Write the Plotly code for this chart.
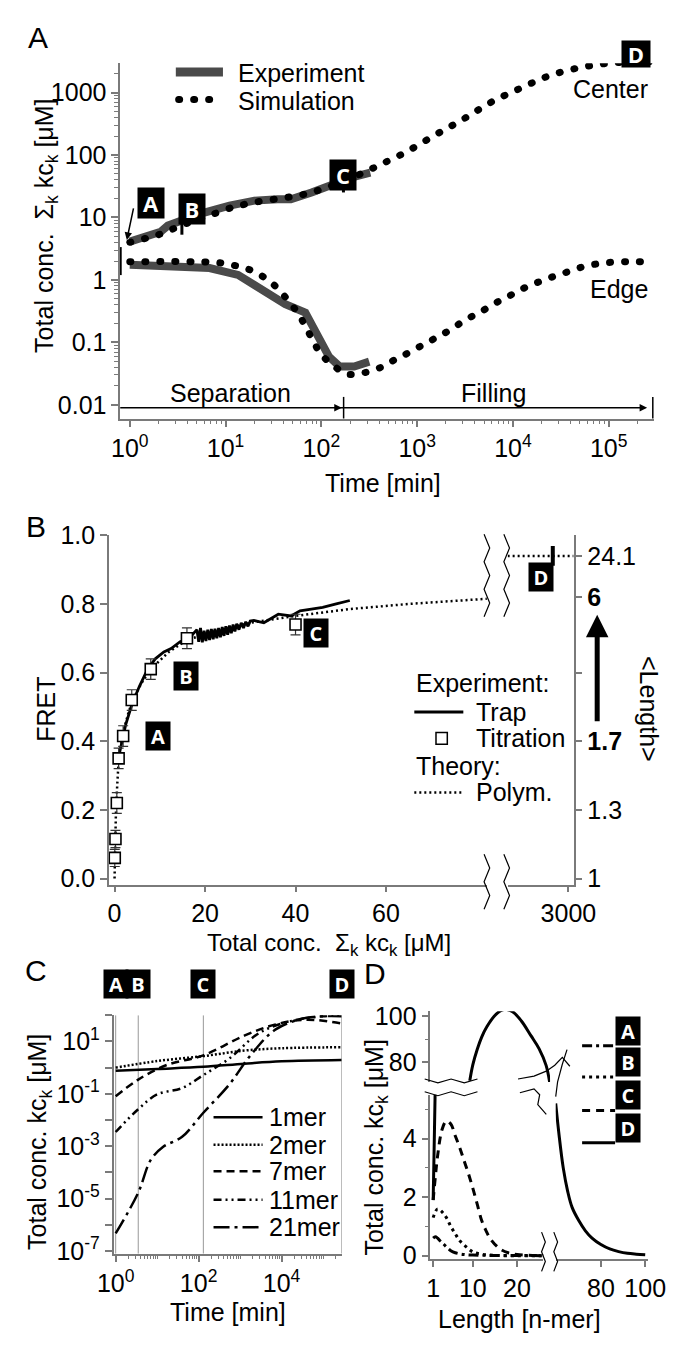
import numpy as np
import plotly.graph_objects as go

W, H = 680, 1347
FONT = "Liberation Sans, Arial, sans-serif"
BOXFONT = "Open Sans, DejaVu Sans, sans-serif"
AX = "#7a7a7a"
GRAY = "#4a4a4a"
FS = 25


def X(px):
    return px / W


def Y(py):
    return 1 - py / H


# ---------------- data ----------------
# Panel A: total concentration vs time (center / edge of the trap)
a_exp_center_t = [1, 1.55, 2.1, 2.5, 3.4, 5.5, 11, 20, 35, 48, 79, 141, 209, 324]
a_exp_center_c = [4.1, 4.9, 5.9, 7.4, 8.9, 11.5, 15.5, 18.6, 19.5, 19.5, 25, 36, 44, 52]
a_sim_center_t = [1, 2, 3.5, 6, 11, 20, 40, 70, 120, 200, 380, 750, 1500, 3000,
                  6000, 12000, 24000, 50000, 100000, 200000, 280000]
a_sim_center_c = [4.0, 5.3, 7.5, 10, 14, 17.5, 20.5, 24, 31, 42, 66, 110, 204, 372,
                  708, 1175, 1860, 2510, 2950, 3090, 3100]
a_exp_edge_t = [1, 3, 6.8, 13.5, 23, 42, 68, 93, 120, 155, 220, 316]
a_exp_edge_c = [1.74, 1.66, 1.55, 1.2, 0.74, 0.41, 0.30, 0.12, 0.059, 0.041, 0.041, 0.049]
a_sim_edge_t = [1, 8, 11.5, 16, 23, 32, 44, 58, 71, 85, 98, 132, 186, 263, 390, 550,
                780, 1120, 1600, 2240, 3200, 4500, 6300, 8900, 12600, 18000, 26000,
                36000, 51000, 72000, 100000, 150000, 220000]
a_sim_edge_c = [1.95, 1.9, 1.74, 1.55, 1.2, 0.83, 0.49, 0.28, 0.16, 0.095, 0.066, 0.043,
                0.031, 0.032, 0.038, 0.05, 0.066, 0.089, 0.12, 0.16, 0.23, 0.30, 0.41,
                0.54, 0.72, 0.91, 1.12, 1.32, 1.58, 1.78, 1.9, 1.95, 1.95]
a_mark_t = [3.5, 170, 270000]
a_mark_c = [8, 38, 3000]
a_start_c = 2.0
a_xticks = [1, 10, 100, 1000, 10000, 100000]
a_xlabels = ["10<sup>0</sup>", "10<sup>1</sup>", "10<sup>2</sup>", "10<sup>3</sup>",
             "10<sup>4</sup>", "10<sup>5</sup>"]
a_yticks = [0.01, 0.1, 1, 10, 100, 1000]
a_ylabels = ["0.01", "0.1", "1", "10", "100", "1000"]

# Panel B: FRET vs total concentration
b_trap_x = [1.0, 1.9, 2.5, 3.9, 5.5, 7.3, 9, 10.9, 12.5, 14.5, 16.5,
            18.2, 18.6, 19.0, 19.4, 19.8, 20.2, 20.6, 21.0, 21.4, 21.8, 22.2, 22.6,
            23.0, 23.4, 23.8, 24.2, 24.6, 25.0, 25.4, 25.8, 26.2, 26.6, 27.0, 27.5,
            28, 28.5, 29, 29.5, 30, 30.8, 33, 36.2, 39, 41, 43.5, 46, 49, 52]
b_trap_y = [0.36, 0.41, 0.45, 0.51, 0.56, 0.61, 0.64, 0.66, 0.67, 0.69, 0.70,
            0.725, 0.69, 0.73, 0.688, 0.722, 0.692, 0.725, 0.695, 0.727, 0.697, 0.728,
            0.70, 0.73, 0.703, 0.733, 0.707, 0.735, 0.71, 0.737, 0.715, 0.74, 0.72,
            0.742, 0.725, 0.745, 0.73, 0.748, 0.735, 0.75, 0.752, 0.745, 0.77, 0.765,
            0.78, 0.785, 0.79, 0.80, 0.81]
b_titr_x = [0.05, 0.2, 0.5, 0.9, 1.9, 3.8, 8, 16, 40]
b_titr_y = [0.06, 0.115, 0.22, 0.35, 0.415, 0.52, 0.61, 0.70, 0.74]
b_titr_err = [0.025, 0.025, 0.03, 0.03, 0.03, 0.03, 0.03, 0.03, 0.03]
b_theo_x = [0, 0.05, 0.15, 0.3, 0.5, 0.8, 1.2, 2, 3, 4, 6, 8, 12, 16, 22, 30, 40, 52,
            65, 82.3]
b_theo_y = [0.0, 0.05, 0.12, 0.19, 0.25, 0.32, 0.37, 0.43, 0.48, 0.52, 0.57, 0.61,
            0.66, 0.695, 0.72, 0.745, 0.765, 0.785, 0.80, 0.815]
b_theo2_x = [2650, 3030]
b_theo2_y = [0.94, 0.94]
b_D_x = [2910]
b_D_y = [0.94]
b_len_pos = [0, 0.2, 0.4, 0.6, 0.82, 0.94]
b_len_text = ["1", "1.3", "<b>1.7</b>", "", "<b>6</b>", "24.1"]

# Panel C: concentration of n-mers vs time
c_marks_t = [1, 3.5, 130, 280000]
c_1_t = [1, 10, 130, 1260, 10000, 280000]
c_1_c = [0.76, 0.89, 1.07, 1.41, 1.74, 1.95]
c_2_t = [1, 10, 130, 1260, 10000, 280000]
c_2_c = [1.0, 1.78, 2.75, 4.47, 5.5, 6.0]
c_7_t = [1, 3.5, 17, 130, 1260, 7200, 40000, 280000]
c_7_c = [0.081, 0.35, 1.26, 2.95, 16.6, 44.7, 67.6, 47.9]
c_11_t = [1, 3.5, 10, 40, 130, 540, 3000, 17400, 100000, 280000]
c_11_c = [0.0035, 0.026, 0.095, 0.166, 0.52, 2.19, 21.9, 60.3, 91.2, 100]
c_21_t = [1, 3.5, 7, 14, 40, 130, 540, 1800, 7200, 40000, 280000]
c_21_c = [4.7e-7, 1.7e-5, 3.0e-4, 9.5e-4, 2.3e-3, 0.019, 0.22, 3.0, 28.8, 79.4, 91.2]
c_names = ["1mer", "2mer", "7mer", "11mer", "21mer"]

# Panel D: length distribution at time points A-D
d_A_n = [1, 1.5, 2, 2.5, 3, 4, 5, 6, 8, 10, 14, 20, 26]
d_A_v = [0.6, 0.65, 0.6, 0.52, 0.45, 0.3, 0.17, 0.1, 0.04, 0.02, 0.01, 0.005, 0]
d_B_n = [1, 1.5, 2, 3, 4, 5, 6, 7, 8.5, 10, 12, 15, 20, 26]
d_B_v = [1.3, 1.5, 1.6, 1.5, 1.3, 1.0, 0.75, 0.52, 0.3, 0.13, 0.05, 0.01, 0, 0]
d_C_n = [1, 1.5, 2, 3, 4, 5, 6, 7, 8, 9, 10, 11, 12, 13, 14, 16, 18, 20, 26]
d_C_v = [1.9, 2.7, 3.4, 4.3, 4.6, 4.5, 4.1, 3.7, 3.25, 2.8, 2.3, 1.75, 1.2, 0.85,
         0.57, 0.25, 0.1, 0.04, 0.0]
d_D_low_n = [1, 1.2, 1.45]
d_D_low_v = [1.9, 3.5, 5.6]
d_D_up_n = [9.3, 10, 11, 12, 13.2, 15.3, 17.1, 19, 21, 23.2, 25, 26.6, 27.4]
d_D_up_v = [72, 79, 85.7, 91, 95.6, 101, 103, 102, 98, 91.5, 86, 78.7, 71.5]
d_D_tail_n = [59.6, 61, 63, 65, 67, 70, 73, 76, 80, 84, 88, 92, 96, 100]
d_D_tail_v = [5.2, 4.2, 3.0, 2.2, 1.65, 1.2, 0.85, 0.6, 0.38, 0.23, 0.14, 0.08, 0.05, 0.03]


def minor_log(lo, hi):
    return [d * 10.0 ** k for k in range(lo, hi) for d in range(2, 10)]


fig = go.Figure()

# ---------------- panel A ----------------
DOTS = "1px,14px"   # drawn with round caps (see post_script) -> big round dots
fig.add_trace(go.Scatter(x=a_exp_center_t, y=a_exp_center_c, mode="lines",
                         line=dict(color=GRAY, width=8), xaxis="x", yaxis="y"))
fig.add_trace(go.Scatter(x=a_exp_edge_t, y=a_exp_edge_c, mode="lines",
                         line=dict(color=GRAY, width=8), xaxis="x", yaxis="y"))
fig.add_trace(go.Scatter(x=a_sim_center_t, y=a_sim_center_c, mode="lines",
                         line=dict(color="black", width=7, dash=DOTS, shape="spline"),
                         xaxis="x", yaxis="y"))
fig.add_trace(go.Scatter(x=a_sim_edge_t, y=a_sim_edge_c, mode="lines",
                         line=dict(color="black", width=7, dash=DOTS, shape="spline"),
                         xaxis="x", yaxis="y"))
fig.add_trace(go.Scatter(x=a_mark_t, y=a_mark_c, mode="markers", cliponaxis=False,
                         marker=dict(symbol="line-ns", size=16, line=dict(width=3, color="black")),
                         xaxis="x", yaxis="y"))
fig.add_trace(go.Scatter(x=[10 ** -0.1], y=[a_start_c], mode="markers", cliponaxis=False,
                         marker=dict(symbol="line-ns", size=20, line=dict(width=3, color="black")),
                         xaxis="x", yaxis="y"))

# ---------------- panel B ----------------
fig.add_trace(go.Scatter(x=b_theo_x, y=b_theo_y, mode="lines",
                         line=dict(color="black", width=2.5, dash="2px,3px"), xaxis="x2", yaxis="y2"))
fig.add_trace(go.Scatter(x=b_trap_x, y=b_trap_y, mode="lines",
                         line=dict(color="black", width=2.8), xaxis="x2", yaxis="y2"))
fig.add_trace(go.Scatter(x=b_titr_x, y=b_titr_y, mode="markers",
                         error_y=dict(type="data", array=b_titr_err, width=5, thickness=1.2, color="#333"),
                         marker=dict(symbol="square", size=11, color="white",
                                     line=dict(color="black", width=1.6)),
                         xaxis="x2", yaxis="y2"))
fig.add_trace(go.Scatter(x=b_theo2_x, y=b_theo2_y, mode="lines",
                         line=dict(color="black", width=2.5, dash="2px,3px"), xaxis="x3", yaxis="y3"))
fig.add_trace(go.Scatter(x=b_D_x, y=b_D_y, mode="markers",
                         marker=dict(symbol="line-ns", size=14, line=dict(width=4, color="black")),
                         xaxis="x3", yaxis="y3"))

# ---------------- panel C ----------------
for t in c_marks_t:
    fig.add_trace(go.Scatter(x=[t, t], y=[10 ** -7.1, 100], mode="lines",
                             line=dict(color="#999", width=1), xaxis="x4", yaxis="y4"))
c_dash = ["solid", "2px,2px", "8px,5px", "8px,4px,2px,4px,2px,4px", "16px,5px,3px,5px"]
c_series = [(c_1_t, c_1_c), (c_2_t, c_2_c), (c_7_t, c_7_c), (c_11_t, c_11_c), (c_21_t, c_21_c)]
for (tt, cc), ds in zip(c_series, c_dash):
    fig.add_trace(go.Scatter(x=tt, y=cc, mode="lines", line=dict(color="black", width=2.5, dash=ds,
                                                                 shape="spline"),
                             xaxis="x4", yaxis="y4"))

# ---------------- panel D ----------------
d_dash = {"A": "10px,4px,3px,4px", "B": "3px,4px", "C": "8px,6px", "D": "solid"}
for n, v, k in [(d_A_n, d_A_v, "A"), (d_B_n, d_B_v, "B"), (d_C_n, d_C_v, "C"),
                (d_D_low_n, d_D_low_v, "D")]:
    fig.add_trace(go.Scatter(x=n, y=v, mode="lines",
                             line=dict(color="black", width=3, dash=d_dash[k], shape="spline"),
                             xaxis="x5", yaxis="y5"))
fig.add_trace(go.Scatter(x=d_D_tail_n, y=d_D_tail_v, mode="lines",
                         line=dict(color="black", width=3, shape="spline"), xaxis="x6", yaxis="y5"))
fig.add_trace(go.Scatter(x=d_D_up_n, y=d_D_up_v, mode="lines",
                         line=dict(color="black", width=3, shape="spline"), xaxis="x7", yaxis="y7"))

# ---------------- axes ----------------
base = dict(showline=True, linecolor=AX, linewidth=1.5, ticks="outside", tickcolor=AX,
            ticklen=7, tickwidth=1.5, showgrid=False, zeroline=False,
            tickfont=dict(family=FONT, size=FS, color="black"))
minor_style = dict(ticks="outside", ticklen=4, tickcolor=AX, tickwidth=1)

layout_axes = dict(
    xaxis=dict(base, domain=[X(101), X(667)], type="log", range=[-0.1, 5.47], anchor="y",
               tickmode="array", tickvals=a_xticks, ticktext=a_xlabels,
               minor=dict(minor_style, tickmode="array", tickvals=minor_log(0, 6))),
    yaxis=dict(base, domain=[Y(404), Y(42)], type="log", range=[-2.22, 3.47], anchor="x",
               tickmode="array", tickvals=a_yticks, ticktext=a_ylabels,
               minor=dict(minor_style, tickmode="array", tickvals=minor_log(-2, 4))),
    xaxis2=dict(base, domain=[X(89), X(490)], range=[-1.25, 82.3], anchor="y2",
                tickvals=[0, 20, 40, 60], ticklen=6),
    yaxis2=dict(base, domain=[Y(879), Y(523)], range=[-0.018, 1.0], anchor="x2",
                tickvals=[0, 0.2, 0.4, 0.6, 0.8, 1.0], tickformat=".1f"),
    xaxis3=dict(base, domain=[X(512), X(582)], range=[2650, 3030], anchor="y3",
                tickvals=[3000], ticklen=6),
    yaxis3=dict(base, domain=[Y(879), Y(523)], range=[-0.018, 1.0], anchor="x3", side="right",
                tickvals=b_len_pos, ticktext=b_len_text),
    xaxis4=dict(base, domain=[X(94), X(336)], type="log", range=[-0.05, 5.45], anchor="y4",
                tickmode="array", tickvals=[1, 100, 10000],
                ticktext=["10<sup>0</sup>", "10<sup>2</sup>", "10<sup>4</sup>"],
                minor=dict(minor_style, tickmode="array",
                           tickvals=minor_log(0, 6) + [10, 1000, 100000])),
    yaxis4=dict(base, domain=[Y(1255), Y(1012)], type="log", range=[-7.1, 2.0], anchor="x4",
                tickmode="array", tickvals=[10.0 ** k for k in range(-7, 3)],
                ticktext=["10<sup>%d</sup>" % k if k % 2 else "" for k in range(-7, 3)]),
    xaxis5=dict(base, domain=[X(430), X(550)], range=[0.36, 26], anchor="y5",
                tickvals=[1, 10, 20]),
    yaxis5=dict(base, domain=[Y(1260), Y(1093)], range=[-0.1, 5.5], anchor="x5",
                tickvals=[0, 2, 4],
                minor=dict(minor_style, tickmode="array", tickvals=[1, 3, 5])),
    xaxis6=dict(base, domain=[X(563), X(661)], range=[59.6, 101.3], anchor="y5",
                tickvals=[80, 100]),
    xaxis7=dict(domain=[X(430), X(557)], range=[0.36, 27.5], anchor="y7", visible=False),
    yaxis7=dict(base, domain=[Y(1080), Y(1008)], range=[71.5, 102.2], anchor="x7",
                tickvals=[80, 100],
                minor=dict(minor_style, tickmode="array", tickvals=[90])),
)

fig.update_layout(width=W, height=H, margin=dict(l=0, r=0, t=0, b=0),
                  plot_bgcolor="white", paper_bgcolor="white", showlegend=False,
                  font=dict(family=FONT, size=FS, color="black"), **layout_axes)

ann = []


def text(px, py, s, size=FS, xa="center", ya="middle", angle=0):
    ann.append(dict(x=X(px), y=Y(py), xref="paper", yref="paper", text=s, showarrow=False,
                    xanchor=xa, yanchor=ya, textangle=angle,
                    font=dict(family=FONT, size=size, color="black")))


def box(px, py, s, w=24, h=28, size=22):
    ann.append(dict(x=X(px), y=Y(py), xref="paper", yref="paper", text="<b>%s</b>" % s,
                    showarrow=False, bgcolor="black", width=w, height=h,
                    font=dict(family=BOXFONT, size=size, color="white")))


def arrow(hx, hy, tx, ty, width=1.5, size=1):
    ann.append(dict(x=X(hx), y=Y(hy), xref="paper", yref="paper", ax=tx - hx, ay=ty - hy,
                    showarrow=True, arrowhead=2, arrowsize=size, arrowwidth=width,
                    arrowcolor="black", text=""))


# panel letters
text(14, 16, "A", size=30)
text(12, 514, "B", size=30)
text(12, 966, "C", size=30)
text(371, 970, "D", size=30)

# ---- panel A texts ----
ytitle_k = "Total conc.  \u03a3<sub>k</sub> kc<sub>k</sub> [\u03bcM]"
text(22, 208, ytitle_k, angle=-90)
text(380, 470, "Time [min]")
text(224, 52, "Experiment", xa="left")
text(224, 80, "Simulation", xa="left")
text(663, 68, "Center", xa="right")
text(663, 272, "Edge", xa="right")
text(218, 378, "Separation")
text(497, 378, "Filling")
box(119, 168, "A")
box(162, 174, "B")
box(337, 140, "C")
box(664, 18, "D", w=26, h=24)
arrow(108, 222, 115, 189)
arrow(336, 393, 113, 393)
arrow(660, 393, 347, 393)

# ---- panel B texts ----
text(22, 700, "FRET", angle=-90)
text(322, 940, ytitle_k, size=24)
text(662, 700, "<Length>", angle=90)
text(413, 673, "Experiment:", xa="left")
text(476, 703, "Trap", xa="left")
text(476, 730, "Titration", xa="left")
text(413, 758, "Theory:", xa="left")
text(476, 785, "Polym.", xa="left")
box(127, 728, "A", w=22, h=26, size=20)
box(157, 666, "B", w=22, h=26, size=20)
box(309, 623, "C", w=22, h=26, size=20)
box(561, 565, "D", w=22, h=26, size=20)
arrow(607, 604, 607, 712, width=5, size=0.9)

# ---- panel C texts ----
text(15, 1141, "Total conc. kc<sub>k</sub> [\u03bcM]", angle=-90)
text(215, 1314, "Time [min]")
for t, k in zip(c_marks_t, "ABCD"):
    ann.append(dict(x=np.log10(t), y=Y(995), xref="x4", yref="paper", text="<b>%s</b>" % k,
                    showarrow=False, bgcolor="black", width=22, height=26,
                    font=dict(family=BOXFONT, size=20, color="white")))
c_leg_y = [1116, 1144, 1171, 1200, 1228]
for name, yy in zip(c_names, c_leg_y):
    text(257, yy, name, xa="left", size=25)

# ---- panel D texts ----
text(372, 1147, "Total conc. kc<sub>k</sub> [\u03bcM]", angle=-90)
text(525, 1322, "Length [n-mer]")
d_leg_y = [1043, 1075, 1109, 1142]
for k, yy in zip("ABCD", d_leg_y):
    box(654, yy, k, w=22, h=26, size=20)

fig.update_layout(annotations=ann)

# ---------------- shapes: legend keys, break marks ----------------
shapes = []


def seg(x0, y0, x1, y1, width=2, dash="solid", color="black"):
    shapes.append(dict(type="line", xref="paper", yref="paper", x0=X(x0), y0=Y(y0),
                       x1=X(x1), y1=Y(y1), line=dict(color=color, width=width, dash=dash)))


def path(pts, width=1.2):
    d = "M " + " L ".join("%.5f,%.5f" % (X(a), Y(b)) for a, b in pts)
    shapes.append(dict(type="path", xref="paper", yref="paper", path=d,
                       line=dict(color="black", width=width)))


def zigzag_v(x, y0, y1, amp=3, step=14):
    pts, i, yy = [], 0, y0
    while yy <= y1:
        pts.append((x + (amp if i % 2 else -amp), yy))
        yy += step
        i += 1
    path(pts)


def zigzag_h(y, x0, x1, amp=2, step=14):
    pts, i, xx = [], 0, x0
    while xx <= x1:
        pts.append((xx, y + (amp if i % 2 else -amp)))
        xx += step
        i += 1
    path(pts)


# A legend + region marks
seg(160, 51, 210, 51, width=9, color=GRAY)
seg(163, 79, 200, 79, width=7, dash=DOTS)
seg(338, 382, 338, 404, width=1.5)
seg(666, 382, 666, 404, width=1.5)

# B legend
seg(413, 703, 465, 703, width=3)
shapes.append(dict(type="rect", xref="paper", yref="paper", x0=X(436), x1=X(448),
                   y0=Y(724), y1=Y(736), line=dict(color="black", width=1.5)))
seg(413, 785, 463, 785, width=2.5, dash="2px,3px")
# B break marks
zigzag_v(490, 522, 606)
zigzag_v(511, 522, 606)
zigzag_v(490, 848, 916)
zigzag_v(511, 848, 916)

# C legend
for yy, ds in zip(c_leg_y, c_dash):
    seg(200, yy, 252, yy, width=2.5, dash=ds)

# D legend
for k, yy in zip("ABCD", d_leg_y):
    seg(591, yy, 626, yy, width=3, dash=d_dash[k])
# D break marks
zigzag_h(1079, 424, 483)
zigzag_h(1092, 424, 483)
zigzag_v(550, 1233, 1274, amp=2, step=10)
zigzag_v(563, 1233, 1274, amp=2, step=10)
path([(523, 1077), (540, 1074), (553, 1069), (562, 1063), (570, 1055), (578, 1064)])
path([(525, 1091), (540, 1087), (546, 1093), (544, 1103), (553, 1113)])
path([(575, 1047), (570, 1062), (565, 1080), (563, 1095)])

fig.update_layout(shapes=shapes)

# round line caps for the big-dot "Simulation" curves
round_dots = """
var gd = document.getElementById('{plot_id}');
function roundDots() {
  gd.querySelectorAll('path').forEach(function (p) {
    var d = (p.style.strokeDasharray || '').replace(/\\s/g, '');
    if (d === '1px,14px') { p.style.strokeLinecap = 'round'; }
  });
}
roundDots();
gd.on('plotly_afterplot', roundDots);
"""
fig.write_html("out.html", post_script=round_dots)
